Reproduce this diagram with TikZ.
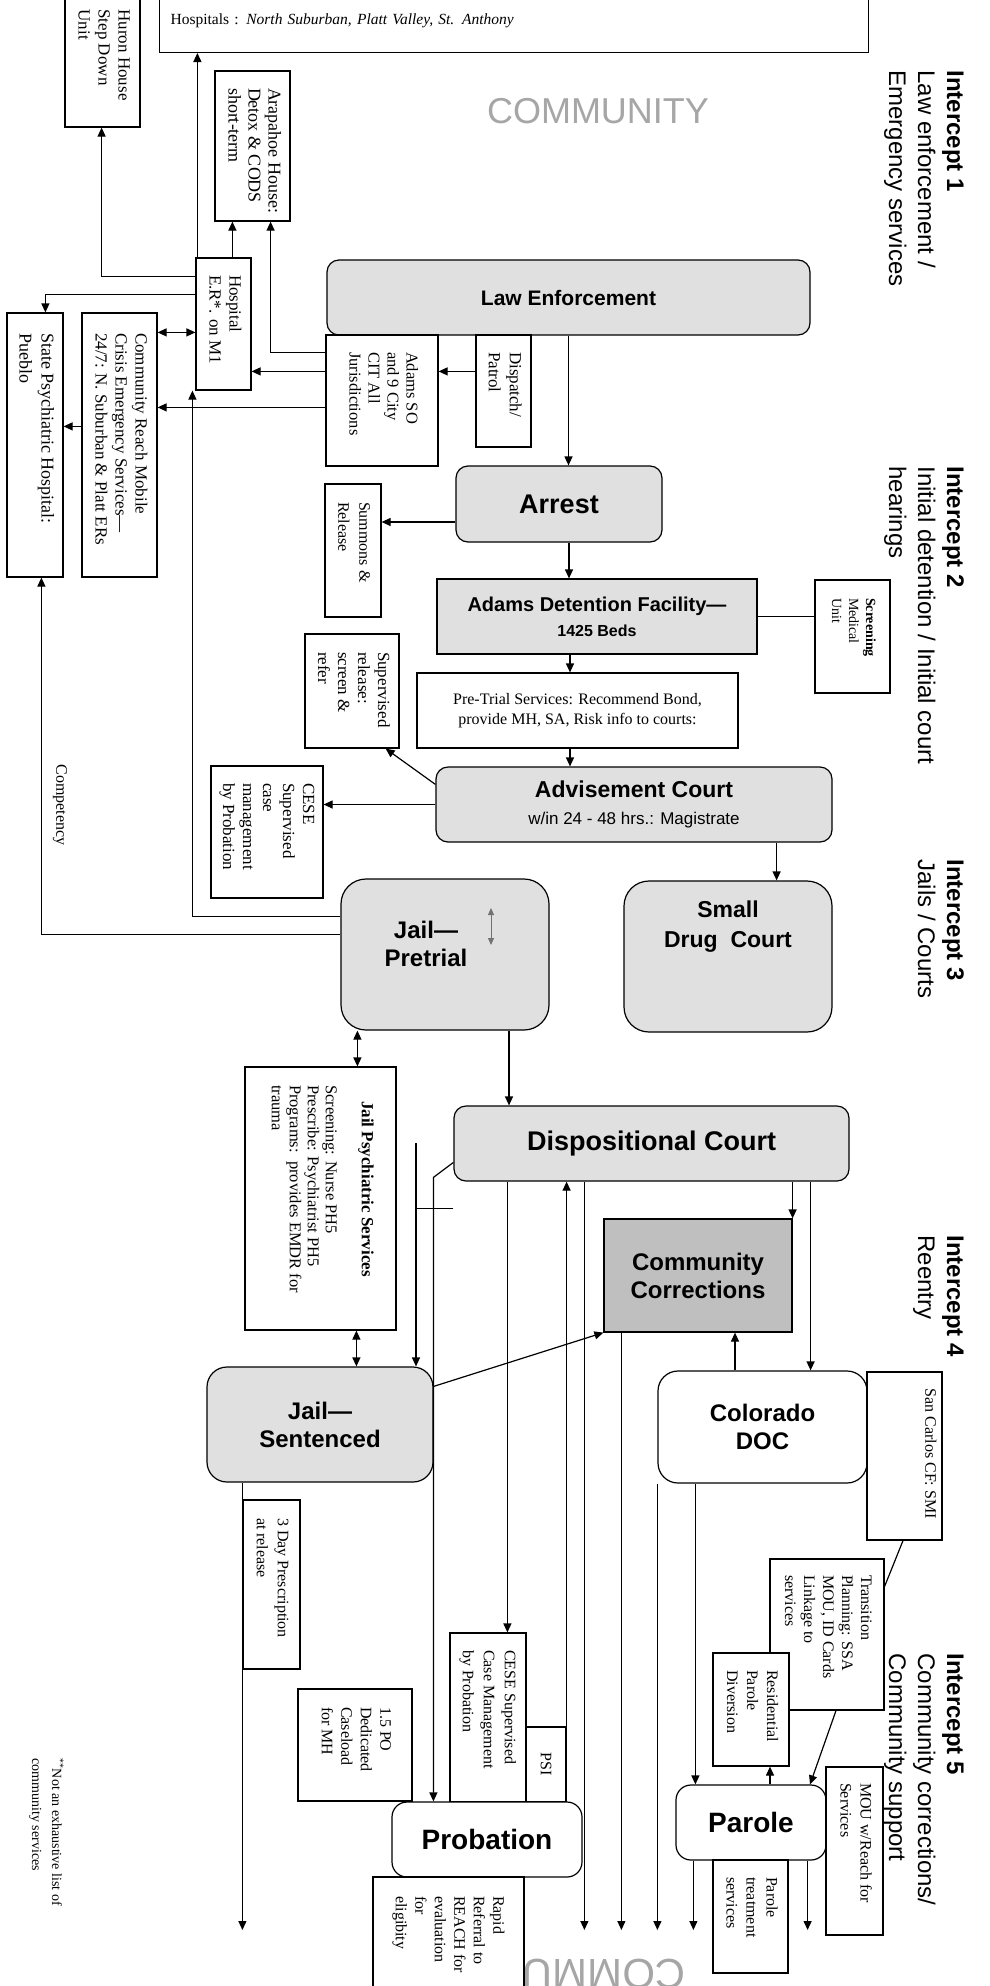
\documentclass[tikz,border=0pt]{standalone}
\usepackage{fontspec}
\setmainfont{Liberation Serif}
\setsansfont{Liberation Sans}
\usepackage{graphicx}
\usetikzlibrary{arrows.meta, positioning}

\newcommand{\fsz}[2]{\fontsize{#1}{#2}\selectfont}
\newcommand{\turntext}[2]{\rotatebox{-90}{\makebox[#1][l]{\begin{tabular}{@{}l@{}}#2\end{tabular}}}}
\newcommand{\turnlines}[1]{\rotatebox{-90}{\begin{tabular}{@{}l@{}}#1\end{tabular}}}

\tikzset{
	wh/.style 2 args={minimum width=#1pt, minimum height=#2pt},
	cell/.style={draw, fill=white, inner sep=0pt, font=\fsz{17}{20}},
	court/.style={draw, fill=black!12, rounded corners=12pt, inner sep=0pt, align=center, font=\sffamily\bfseries\fsz{24}{28}},
	arr/.style={-{Triangle[length=9pt,width=8pt]}},
	dbl/.style={{Triangle[length=9pt,width=8pt]}-{Triangle[length=9pt,width=8pt]}},
	intercept/.style={anchor=north east, inner sep=0pt, font=\sffamily\fsz{24}{29}},
}

\begin{document}
\begin{tikzpicture}[x=1pt, y=-1pt, line width=1.2pt]
				\useasboundingbox (0,0) rectangle (989,1986);
				\fill[white] (0,0) rectangle (989,1986);

				% 背景字
				\node[font=\sffamily\fsz{36}{40}, text=black!35] (commtop) at (598,111) {COMMUNITY};
				\node[anchor=north east, inner sep=0pt, font=\sffamily\fsz{42}{46}, text=black!35] (commbot) at (686,1958) {\rotatebox{180}{COMMUNITY}};

				% 拦截点标题
				\node[intercept] (icpt1) at (968,70) {\turnlines{\textbf{Intercept 1}\\Law enforcement /\\Emergency services}};
				\node[intercept] (icpt2) at (968,466) {\turnlines{\textbf{Intercept 2}\\Initial detention / Initial court\\hearings}};
				\node[intercept] (icpt3) at (968,859) {\turnlines{\textbf{Intercept 3}\\Jails / Courts}};
				\node[intercept] (icpt4) at (968,1235) {\turnlines{\textbf{Intercept 4}\\Reentry}};
				\node[intercept] (icpt5) at (968,1653) {\turnlines{\textbf{Intercept 5}\\Community corrections/\\Community support}};

				% 拦截点 1
				\node[cell, wh={709}{63}, anchor=south west, text width=687pt, align=left, font=\fsz{15.5}{18}] (hosp) at (159,53) {Hospitals : \textit{North Suburban, Platt Valley, St. Anthony}};
				\node[cell, wh={75}{135}] (huron) at (102.5,59.5) {\turntext{100pt}{Huron House\\Step Down\\Unit}};
				\node[cell, wh={75}{150}, font=\fsz{18}{20}] (arap) at (252.5,146) {\turntext{116pt}{Arapahoe House:\\Detox \& CODS\\short-term}};
				\node[cell, wh={55}{132}] (er) at (223.5,324) {\turntext{98pt}{Hospital\\E.R*. on M1}};
				\node[cell, wh={56}{264}, font=\fsz{18}{22}] (stateh) at (35,445) {\turntext{224pt}{State Psychiatric Hospital:\\Pueblo}};
				\node[cell, wh={75}{264}, font=\fsz{17}{20}] (reach) at (119.5,445) {\turntext{224pt}{Community Reach Mobile\\Crisis Emergency Services---\\24/7: N. Suburban \& Platt ERs}};
				\node[court, wh={483}{75}, font=\sffamily\bfseries\fsz{21}{25}] (le) at (568.5,297.5) {Law Enforcement};
				\node[cell, wh={112}{131}, font=\fsz{16.5}{19}] (adams) at (382,400.5) {\turntext{97pt}{Adams SO\\and 9 City\\CIT All\\Jurisdictions}};
				\node[cell, wh={55}{112}, font=\fsz{17}{21}] (dispatch) at (503.5,391) {\turntext{78pt}{Dispatch/\\Patrol}};

				% 拦截点 2
				\node[court, wh={206}{76}, font=\sffamily\bfseries\fsz{27}{30}] (arrest) at (559,504) {Arrest};
				\node[cell, wh={56}{133}, font=\fsz{16}{21}] (summons) at (353,550.5) {\turntext{97pt}{Summons \&\\Release}};
				\node[court, sharp corners, wh={320}{75}, font=\sffamily\bfseries\fsz{20}{25}] (adf) at (597,616.5) {Adams Detention Facility---\\{\fsz{16}{19}1425 Beds}};
				\node[cell, wh={75}{113}, font=\fsz{14}{17}] (screen) at (852.5,636.5) {\turntext{77pt}{\textbf{Screening}\\Medical\\Unit}};
				\node[cell, wh={321}{75}, font=\fsz{16}{20}, align=center] (pretrial) at (577.5,710.5) {Pre-Trial Services: Recommend Bond,\\provide MH, SA, Risk info to courts:};
				\node[cell, wh={94}{114}] (suprel) at (352,691) {\turntext{78pt}{Supervised\\release:\\screen \&\\refer}};
				\node[court, wh={396}{75}, font=\sffamily\bfseries\fsz{23}{27}] (advise) at (634,804.5) {Advisement Court\\{\mdseries\fsz{17}{20}w/in 24 - 48 hrs.: Magistrate}};
				\node[cell, wh={112}{132}] (cese1) at (267,832) {\turntext{98pt}{CESE\\Supervised\\case\\management\\by Probation}};
				\node[font=\fsz{16}{19}] (comp) at (60,805) {\rotatebox{-90}{Competency}};

				% 拦截点 3
				\node[court, wh={208}{151}, rounded corners=25pt] (jailpre) at (445,954.5) {};
				\node[font=\sffamily\bfseries\fsz{24}{28}, align=center] (jailpre-lbl) at (426,944) {Jail---\\Pretrial};
				\node[court, wh={208}{151}, rounded corners=25pt] (sdc) at (728,956.5) {};
				\node[font=\sffamily\bfseries\fsz{23}{30}, align=center] (sdc-lbl) at (728,927) {Small\\Drug\ \ Court};
				\node[cell, wh={151}{263}, font=\fsz{16.5}{18}] (jps) at (320.5,1198.5) {\turntext{227pt}{\multicolumn{1}{@{}c@{}}{\fsz{17}{18}\textbf{Jail Psychiatric Services}}\\[18pt]Screening: Nurse PH5\\Prescribe: Psychiatrist PH5\\Programs:\ \ provides EMDR for\\trauma}};
				\node[court, wh={395}{75}, font=\sffamily\bfseries\fsz{27}{30}] (disp) at (651.5,1143.5) {Dispositional Court};

				% 拦截点 4
				\node[court, sharp corners, fill=black!25, wh={188}{113}] (comcor) at (698,1275.5) {Community\\Corrections};
				\node[court, wh={226}{115}, rounded corners=20pt] (jailsen) at (320,1424.5) {Jail---\\Sentenced};
				\node[court, fill=white, wh={209}{112}, rounded corners=20pt] (doc) at (762.5,1427) {Colorado\\DOC};
				\node[cell, wh={75}{168}] (sancarlos) at (904.5,1456) {};
				\node[anchor=north east, inner sep=0pt, font=\fsz{16}{19}] (sancarlos-lbl) at (937,1388) {\rotatebox{-90}{San Carlos CF: SMI}};

				% 拦截点 5
				\node[cell, wh={114}{151}, font=\fsz{16}{19}] (trans) at (827,1634.5) {\turntext{119pt}{Transition\\Planning: SSA\\MOU, ID Cards\\Linkage to\\services}};
				\node[cell, wh={76}{113}, font=\fsz{16}{20}] (resid) at (751,1709.5) {\turntext{79pt}{Residential\\Parole\\Diversion}};
				\node[court, fill=white, wh={150}{75}, rounded corners=15pt, font=\sffamily\bfseries\fsz{28}{30}] (parole) at (751,1822.5) {Parole};
				\node[cell, wh={57}{168}, font=\fsz{16}{20}] (mou) at (854.5,1851) {\turntext{136pt}{MOU w/Reach for\\Services}};
				\node[cell, wh={75}{113}, font=\fsz{16}{20}] (ptreat) at (750.5,1916.5) {\turntext{79pt}{Parole\\treatment\\services}};
				\node[cell, wh={57}{169}, font=\fsz{16}{21}] (rx3) at (271.5,1584.5) {\turntext{133pt}{3 Day Prescription\\at release}};
				\node[cell, wh={114}{112}, font=\fsz{16}{19.5}] (po) at (355,1745) {\turntext{76pt}{1.5 PO\\Dedicated\\Caseload\\for MH}};
				\node[cell, wh={76}{169}, font=\fsz{16}{21}] (cese2) at (488,1717.5) {\turntext{135pt}{CESE Supervised\\Case Management\\by Probation}};
				\node[cell, wh={40}{75}, font=\fsz{16}{19}] (psi) at (546,1764.5) {\rotatebox{-90}{PSI}};
				\node[court, fill=white, wh={190}{75}, rounded corners=15pt, font=\sffamily\bfseries\fsz{28}{30}] (prob) at (487,1839.5) {Probation};
				\node[cell, wh={151}{123}, font=\fsz{16}{19.5}] (rapid) at (448.5,1938.5) {\turntext{85pt}{Rapid\\Referral to\\REACH for\\evaluation\\for\\eligibity}};
				\node[anchor=north, inner sep=0pt, font=\fsz{14}{20}] (note) at (46,1758) {\turnlines{\textsuperscript{**}Not an exhaustive list of\\community services}};

				\coordinate (floor) at (0,1930); % 底部箭头终点
				\coordinate (stub) at (416,1143);
				\coordinate (jp-up) at (491,908);
				\coordinate (jp-dn) at (491,945);

				% 连线: 拦截点 1
				\draw[arr] ([xshift=2pt]er.north west) -- ([xshift=2pt]er.north west |- hosp.south);
				\draw[arr] ([xshift=37pt]er.north west) -- ([xshift=37pt]er.north west |- arap.south);
				\draw[arr] ([yshift=-18pt]adams.north west) -| ([xshift=-20pt]arap.south east);
				\draw[arr] ([yshift=-37pt]dispatch.north west) -- ([yshift=-37pt]dispatch.north west -| adams.east);
				\draw[arr] ([yshift=-37pt]adams.north west) -- ([yshift=-37pt]adams.north west -| er.east);
				\draw[arr] ([yshift=-73pt]adams.north west) -- ([yshift=-73pt]adams.north west -| reach.east);
				\draw[arr] ([yshift=-19pt]er.north west) -| ([xshift=-39pt]huron.south east);
				\draw[arr] ([yshift=-37pt]er.north west) -| ([xshift=39pt]stateh.north west);
				\draw[dbl] ([yshift=-20pt]reach.north east) -- ([yshift=-20pt]reach.north east -| er.west);
				\draw[arr] ([yshift=-114pt]reach.north west) -- ([yshift=-114pt]reach.north west -| stateh.east);
				\draw[arr] ([yshift=-38pt]jailpre.north west) -| ([xshift=-3pt]er.south west);
				\draw[arr] ([yshift=-56pt]jailpre.north west) -| ([xshift=35pt]stateh.south west);

				% 连线: 拦截点 2
				\draw[arr] (le.south) -- (le.south |- arrest.north);
				\draw[arr] ([xshift=10pt]arrest.south) -- ([xshift=10pt]arrest.south |- adf.north);
				\draw[arr] ([yshift=-18pt]arrest.west) -- ([yshift=-18pt]arrest.west -| summons.east);
				\draw (adf.east) -- (adf.east -| screen.west);
				\draw[arr] ([xshift=-27pt]adf.south) -- ([xshift=-27pt]adf.south |- pretrial.north);
				\draw[arr] ([xshift=-7.5pt]pretrial.south) -- ([xshift=-7.5pt]pretrial.south |- advise.north);
				\draw[arr] ([yshift=-18pt]advise.north west) -- ([xshift=-14pt]suprel.south east);
				\draw[arr] (advise.west) -- (advise.west -| cese1.east);
				\draw[arr] ([xshift=-56pt]advise.south east) -- ([xshift=-56pt]advise.south east |- sdc.north);

				% 连线: 拦截点 3
				\draw[dbl] ([xshift=17pt]jailpre.south west) -- ([xshift=17pt]jailpre.south west |- jps.north);
				\draw[arr] ([xshift=64pt]jailpre.south) -- ([xshift=64pt]jailpre.south |- disp.north);
				\draw[{Triangle[length=7pt,width=6pt]}-{Triangle[length=7pt,width=6pt]}, black!55, line width=1pt] (jp-up) -- (jp-dn);

				% 连线: 拦截点 4
				\draw[dbl] ([xshift=112pt]jps.south west) -- ([xshift=112pt]jps.south west |- jailsen.north);
				\draw[arr] ([yshift=-57pt]disp.north west) -- ([xshift=-20pt,yshift=-72pt]disp.north west) -- ([xshift=-20pt]disp.north west |- prob.north);
				\draw[arr] (stub) -- (stub |- jailsen.north);
				\draw ([yshift=-103pt]disp.north west) -- ([yshift=-103pt]disp.north west -| stub);
				\draw[arr] ([yshift=-20pt]jailsen.north east) -- (comcor.south west);
				\draw[arr] (disp.south -| comcor.east) -- (comcor.north east);
				\draw[arr] ([xshift=-39pt]disp.south east) -- ([xshift=-39pt]disp.south east |- doc.north);
				\draw[arr] ([xshift=-27.5pt]doc.north) -- ([xshift=-27.5pt]doc.north |- comcor.south);
				\draw[arr] ([xshift=54pt]disp.south west) -- ([xshift=54pt]disp.south west |- cese2.north);
				\draw[arr] (prob.north -| psi.east) -- (psi.east |- disp.south);
				\draw[arr] ([xshift=131pt]disp.south west) -- ([xshift=131pt]disp.south west |- floor);
				\draw[arr] ([xshift=18pt]comcor.south west) -- ([xshift=18pt]comcor.south west |- floor);
				\draw[arr] (doc.south west) -- (doc.south west |- floor);
				\draw[arr] ([xshift=38pt]doc.south west) -- ([xshift=38pt]doc.south west |- parole.north);
				\draw[arr] ([xshift=36pt]jailsen.south west) -- ([xshift=36pt]jailsen.south west |- floor);

				% 连线: 拦截点 5
				\draw[arr] ([xshift=18pt]parole.south west) -- ([xshift=18pt]parole.south west |- floor);
				\draw[arr] ([xshift=-19pt]parole.south east) -- ([xshift=-19pt]parole.south east |- floor);
				\draw[arr] ([xshift=19pt]parole.north) -- ([xshift=19pt]parole.north |- resid.south);
				\draw[arr] ([xshift=9pt]trans.south) -- ([xshift=59pt]parole.north);
				\draw ([xshift=-1.5pt]sancarlos.south) -- ([yshift=-28pt]trans.north east);
\end{tikzpicture}
\end{document}
